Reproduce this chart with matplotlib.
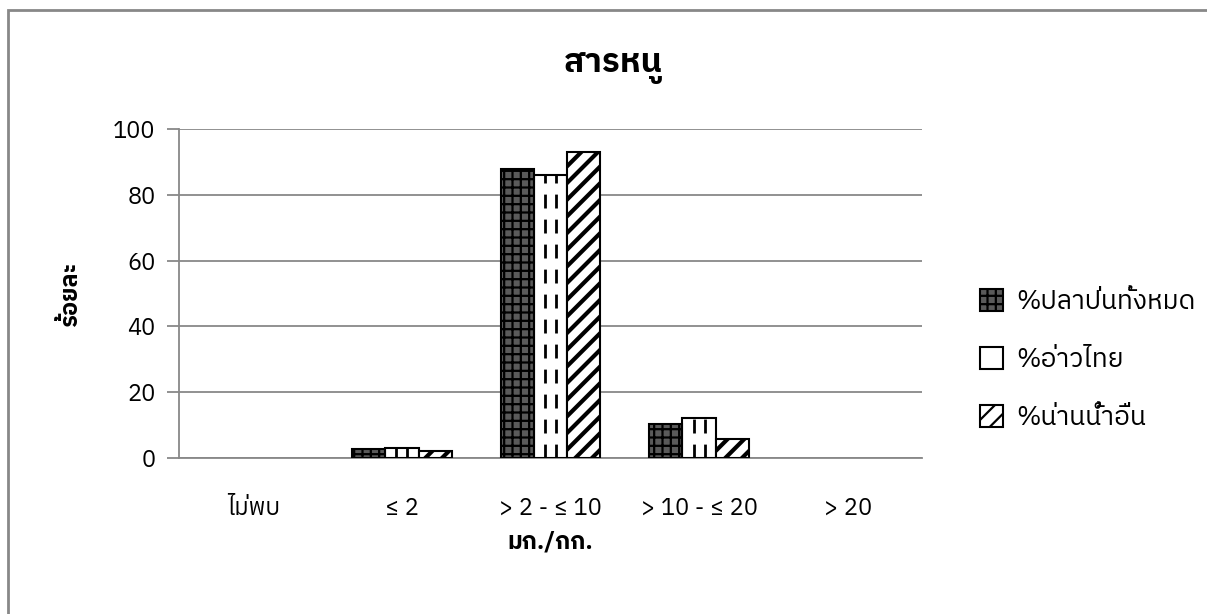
import matplotlib
matplotlib.use("Agg")
import matplotlib.pyplot as plt
from matplotlib import font_manager
from matplotlib.ft2font import FT2Font
from matplotlib.patches import Rectangle, Patch

categories = ["ไม่พบ", "≤ 2", "> 2 - ≤ 10", "> 10 - ≤ 20", "> 20"]
series_names = ["%ปลาป่นทั้งหมด", "%อ่าวไทย", "%น่านน้ำอื่น"]
all_fish = [0, 2.7, 87.8, 10.3, 0]
gulf = [0, 2.9, 86.0, 12.2, 0]
other_waters = [0, 2.1, 93.0, 5.8, 0]
y_ticks = [0, 20, 40, 60, 80, 100]


def find_thai_font():
    # pick any installed family that actually has Thai glyphs
    found = []
    for f in font_manager.fontManager.ttflist:
        try:
            if 0x0E2A in FT2Font(f.fname).get_charmap():
                found.append(f.name)
        except Exception:
            pass
    for name in found:
        if "Thai" in name:
            return name
    return found[0] if found else None


thai = find_thai_font()
families = ([thai] if thai else []) + ["DejaVu Sans"]
plt.rcParams["font.family"] = families
plt.rcParams["hatch.linewidth"] = 1.6

fig = plt.figure(figsize=(12.07, 6.14), dpi=100)
ax = fig.add_axes([0.1483, 0.2541, 0.6156, 0.5358])

x = list(range(len(categories)))
w = 0.224
gray = "#888888"
style1 = dict(facecolor="#5a5a5a", edgecolor="black", hatch="++")
style2 = dict(facecolor="white", edgecolor="black")
style3 = dict(facecolor="white", edgecolor="black", hatch="//")

# series 1: dark crosshatch, drawn as fill + outline
b1 = ax.bar([i - w for i in x], all_fish, w, linewidth=0, zorder=3, **style1)
outline = ax.bar([i - w for i in x], all_fish, w, fill=False, edgecolor="black",
                 linewidth=1.5, zorder=4)
b2 = ax.bar(x, gulf, w, linewidth=1.5, zorder=3, **style2)
for p in b2.patches:
    if p.get_height() > 0:
        for k in (1 / 3, 2 / 3):
            ax.vlines(p.get_x() + p.get_width() * k, 0, p.get_height(),
                      colors="black", linestyles=(0, (5, 4)), linewidth=2, zorder=4)
with plt.rc_context({"hatch.linewidth": 3.0}):
    b3 = ax.bar([i + w for i in x], other_waters, w, linewidth=1.5, zorder=3, **style3)
    h3 = Patch(linewidth=1.5, **style3)

# empty categories show no bar outline at all
for cont in (b1, outline, b2, b3):
    for p in cont.patches:
        if p.get_height() == 0:
            p.set_visible(False)

ax.set_xlim(-0.5, len(categories) - 0.5)
ax.set_ylim(0, 100)
ax.set_yticks(y_ticks)
ax.set_xticks(x)
ax.set_xticklabels(categories, fontsize=17)
ax.tick_params(axis="y", labelsize=17, length=9, color=gray, width=1.3, pad=8)
ax.tick_params(axis="x", length=0, pad=28)
ax.yaxis.grid(True, color=gray, linewidth=1.3, zorder=0)
ax.set_axisbelow(True)
for s in ("top", "right"):
    ax.spines[s].set_visible(False)
ax.spines["left"].set_color(gray)
ax.spines["bottom"].set_color(gray)
ax.spines["left"].set_linewidth(1.3)
ax.spines["bottom"].set_linewidth(1.3)

ax.set_ylabel("ร้อยละ", fontsize=17, fontweight="bold", labelpad=22)
ax.set_xlabel("มก./กก.", fontsize=17, fontweight="bold", labelpad=8)
fig.text(0.508, 0.89, "สารหนู", fontsize=24, fontweight="bold", ha="center", va="center")

handles = [Patch(linewidth=1.5, **style1), Patch(linewidth=1.5, **style2), h3]
fig.legend(handles, series_names, loc="center left", bbox_to_anchor=(0.792, 0.414),
           frameon=False, fontsize=19, handlelength=0.9, handleheight=0.9,
           handletextpad=0.5, labelspacing=1.25)

fig.add_artist(Rectangle((0.0066, -0.1), 1.2, 0.9845 + 0.1, transform=fig.transFigure,
                         fill=False, edgecolor=gray, linewidth=2))

fig.savefig("out.png", dpi=100)
